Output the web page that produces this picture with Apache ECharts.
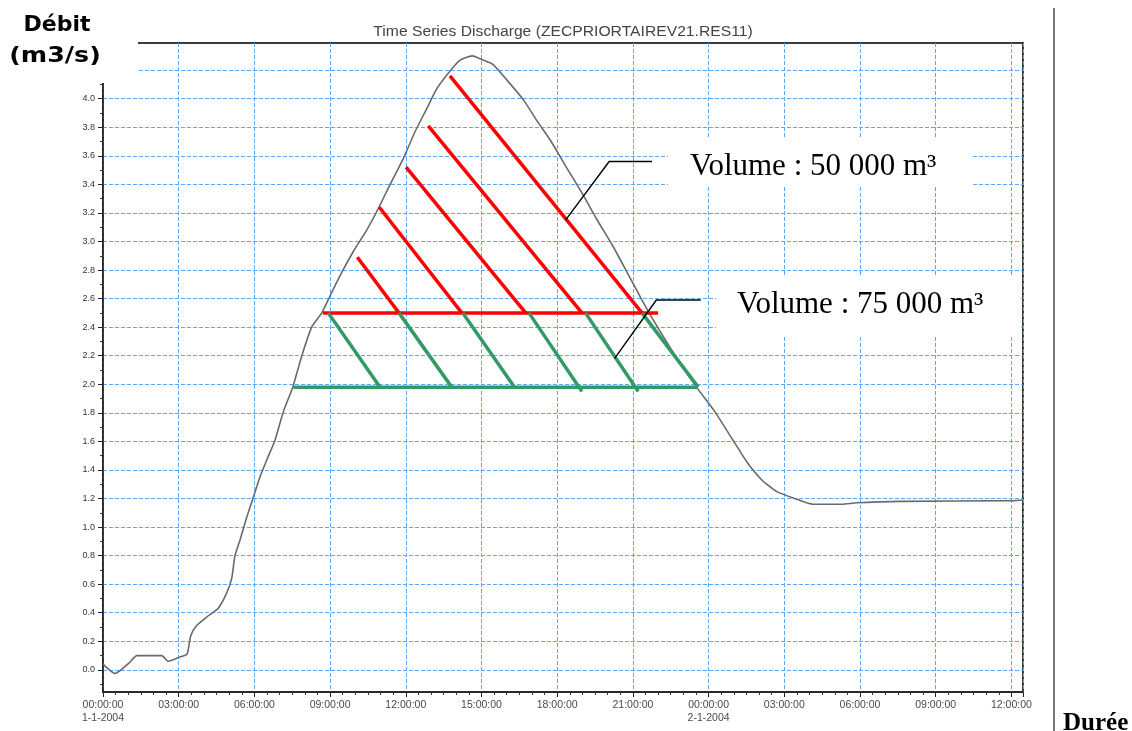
<!DOCTYPE html>
<html>
<head>
<meta charset="utf-8">
<script src="https://cdn.jsdelivr.net/npm/echarts@6/dist/echarts.min.js"></script>
<style>
html, body { margin: 0; padding: 0; background: #fff; }
#chart { width: 1132px; height: 731px; }
</style>
</head>
<body>
<div id="chart"></div>
<script>
// Discharge hydrograph: hours since 1-1-2004 00:00, discharge in m3/s
const hours = [0.00, 0.48, 1.07, 1.34, 2.33, 2.58, 3.05, 3.33, 3.48, 3.71,
  4.11, 4.56, 4.88, 5.10, 5.23, 5.43, 5.70, 5.96, 6.22, 6.49,
  6.82, 7.15, 7.52, 7.88, 8.27, 8.67, 9.00, 9.39, 9.92, 10.45,
  10.85, 11.38, 11.90, 12.37, 12.83, 13.23, 13.69, 14.15, 14.63, 15.07,
  15.45, 16.01, 16.67, 17.18, 17.76, 18.33, 18.98, 19.62, 20.20, 20.78,
  21.36, 21.64, 22.22, 22.79, 23.52, 24.24, 24.96, 25.54, 26.11, 26.69,
  27.41, 28.13, 29.28, 29.86, 31.59, 36.06, 36.46];
const discharge = [0.04, -0.025, 0.055, 0.10, 0.10, 0.06, 0.09, 0.11, 0.24, 0.31,
  0.37, 0.43, 0.53, 0.64, 0.80, 0.91, 1.07, 1.21, 1.35, 1.47,
  1.61, 1.81, 1.98, 2.20, 2.40, 2.50, 2.62, 2.76, 2.93, 3.08,
  3.21, 3.40, 3.58, 3.77, 3.93, 4.07, 4.18, 4.27, 4.30, 4.27,
  4.24, 4.13, 3.99, 3.85, 3.70, 3.53, 3.34, 3.14, 2.97, 2.78,
  2.59, 2.50, 2.33, 2.17, 1.98, 1.81, 1.61, 1.45, 1.33, 1.25,
  1.20, 1.16, 1.16, 1.17, 1.18, 1.185, 1.19];

// X tick labels, one every 3 hours
const xTickLabels = ['00:00:00\n1-1-2004', '03:00:00', '06:00:00', '09:00:00', '12:00:00',
  '15:00:00', '18:00:00', '21:00:00', '00:00:00\n2-1-2004', '03:00:00', '06:00:00',
  '09:00:00', '12:00:00'];
// Y ticks and labels
const yTicks = [0, 0.2, 0.4, 0.6, 0.8, 1.0, 1.2, 1.4, 1.6, 1.8, 2.0, 2.2, 2.4, 2.6,
  2.8, 3.0, 3.2, 3.4, 3.6, 3.8, 4.0, 4.2];
const yTickLabels = ['0.0', '0.2', '0.4', '0.6', '0.8', '1.0', '1.2', '1.4', '1.6', '1.8',
  '2.0', '2.2', '2.4', '2.6', '2.8', '3.0', '3.2', '3.4', '3.6', '3.8', '4.0', '4.2'];
const yMinorTicks = [-0.1, 0.1, 0.3, 0.5, 0.7, 0.9, 1.1, 1.3, 1.5, 1.7, 1.9, 2.1, 2.3,
  2.5, 2.7, 2.9, 3.1, 3.3, 3.5, 3.7, 3.9, 4.1, 4.3];

// Hatching of the two storage volumes: [h1, q1, h2, q2]
const redHatch = [
  [8.71, 2.50, 22.00, 2.50],
  [13.75, 4.16, 21.36, 2.50],
  [12.89, 3.81, 18.98, 2.50],
  [12.01, 3.52, 16.75, 2.50],
  [10.95, 3.24, 14.22, 2.50],
  [10.08, 2.89, 11.73, 2.50]
];
const greenHatch = [
  [7.54, 1.98, 23.58, 1.98],
  [8.93, 2.50, 10.98, 1.98],
  [11.73, 2.50, 13.82, 1.98],
  [14.26, 2.50, 16.31, 1.98],
  [16.88, 2.50, 18.98, 1.95],
  [19.12, 2.50, 21.21, 1.95],
  [21.36, 2.50, 23.59, 1.98]
];
// Leader lines pointing at each volume
const leaders = [
  [[18.33, 3.15], [20.06, 3.56], [21.76, 3.56]],
  [[20.27, 2.18], [21.93, 2.59], [23.69, 2.59]]
];
const volumeLabels = ['Volume : 50 000 m³', 'Volume : 75 000 m³'];
const chartTitle = 'Time Series Discharge (ZECPRIORTAIREV21.RES11)';

const chart = echarts.init(document.getElementById('chart'), null, { renderer: 'canvas' });

const gridBlue = { color: '#5aa9ff', type: [4, 2], width: 1 };

function segSeries(seg, color, width) {
  return {
    type: 'line', silent: true, showSymbol: false, z: 4,
    data: [[seg[0], seg[1]], [seg[2], seg[3]]],
    lineStyle: { color: color, width: width, cap: 'butt' }
  };
}

const series = [{
  type: 'line',
  data: hours.map((h, i) => [h, discharge[i]]),
  showSymbol: false,
  smooth: 0.2,
  silent: true,
  z: 3,
  lineStyle: { color: '#6a6a6a', width: 1.6 }
}];
redHatch.forEach(s => series.push(segSeries(s, '#ff0000', 3.5)));
greenHatch.forEach(s => series.push(segSeries(s, '#339966', 3.5)));
leaders.forEach(pts => series.push({
  type: 'line', silent: true, showSymbol: false, z: 5,
  data: pts, lineStyle: { color: '#000', width: 1.4 }
}));

const yMin = -0.155, yMax = 4.39;

chart.setOption({
  animation: false,
  backgroundColor: '#fff',
  grid: { left: 103, right: 109, top: 43, bottom: 39, show: true,
          borderColor: '#3c3c3c', borderWidth: 2, backgroundColor: '#fff' },
  xAxis: {
    type: 'value', min: 0, max: 36.46, interval: 3,
    axisLine: { onZero: false, lineStyle: { color: '#222', width: 1.5 } },
    axisTick: { length: 5, lineStyle: { color: '#222' } },
    minorTick: { show: true, splitNumber: 6, length: 3, lineStyle: { color: '#333' } },
    axisLabel: {
      fontFamily: 'Liberation Sans', fontSize: 10.5, color: '#4a4a4a', lineHeight: 13, margin: 7,
      formatter: v => {
        const k = Math.round(v / 3);
        return Math.abs(v / 3 - k) < 1e-6 && xTickLabels[k] !== undefined ? xTickLabels[k] : '';
      }
    },
    splitLine: { show: true, lineStyle: gridBlue }
  },
  yAxis: [{
    type: 'value', min: yMin, max: yMax,
    axisLine: { show: true, lineStyle: { color: '#222', width: 1.5 } },
    axisTick: { show: true, customValues: yTicks, length: 5, lineStyle: { color: '#222' } },
    axisLabel: {
      customValues: yTicks, fontFamily: 'Liberation Sans', fontSize: 9, color: '#333', margin: 8,
      formatter: v => {
        let best = 0;
        yTicks.forEach((t, i) => { if (Math.abs(t - v) < Math.abs(yTicks[best] - v)) best = i; });
        return yTickLabels[best];
      }
    },
    splitLine: { show: true, lineStyle: gridBlue }
  }, {
    type: 'value', min: yMin, max: yMax, position: 'left',
    axisLine: { show: false },
    axisLabel: { show: false },
    splitLine: { show: false },
    axisTick: { show: true, customValues: yMinorTicks, length: 3, lineStyle: { color: '#333' } }
  }],
  series: series,
  graphic: [
    { type: 'rect', z: 100, shape: { x: 0, y: 0, width: 138, height: 83 }, style: { fill: '#fff' } },
    { type: 'text', z: 101, x: 57, y: 25,
      style: { text: 'Débit', fontFamily: 'DejaVu Sans', fontWeight: 'bold', fontSize: 22,
               fill: '#000', align: 'center', verticalAlign: 'middle' } },
    { type: 'text', z: 101, x: 55, y: 56, scaleX: 1.15,
      style: { text: '(m3/s)', fontFamily: 'DejaVu Sans', fontWeight: 'bold', fontSize: 22,
               fill: '#000', align: 'center', verticalAlign: 'middle' } },
    { type: 'text', z: 101, x: 563, y: 32, scaleX: 1.12,
      style: { text: chartTitle, fontFamily: 'Liberation Sans', fontSize: 14,
               fill: '#444', align: 'center', verticalAlign: 'middle' } },
    { type: 'rect', z: 100, shape: { x: 668, y: 137, width: 303, height: 50 }, style: { fill: '#fff' } },
    { type: 'text', z: 101, x: 690, y: 167,
      style: { text: volumeLabels[0], fontFamily: 'Liberation Serif', fontSize: 31,
               fill: '#000', align: 'left', verticalAlign: 'middle' } },
    { type: 'rect', z: 100, shape: { x: 716, y: 275, width: 305, height: 62 }, style: { fill: '#fff' } },
    { type: 'text', z: 101, x: 737, y: 305,
      style: { text: volumeLabels[1], fontFamily: 'Liberation Serif', fontSize: 31,
               fill: '#000', align: 'left', verticalAlign: 'middle' } },
    { type: 'line', z: 101, shape: { x1: 1054, y1: 8, x2: 1054, y2: 731 },
      style: { stroke: '#7a7a7a', lineWidth: 2 } },
    { type: 'text', z: 101, x: 1063, y: 724,
      style: { text: 'Durée', fontFamily: 'Liberation Serif', fontWeight: 'bold', fontSize: 25,
               fill: '#000', align: 'left', verticalAlign: 'middle' } }
  ]
});
</script>
</body>
</html>
